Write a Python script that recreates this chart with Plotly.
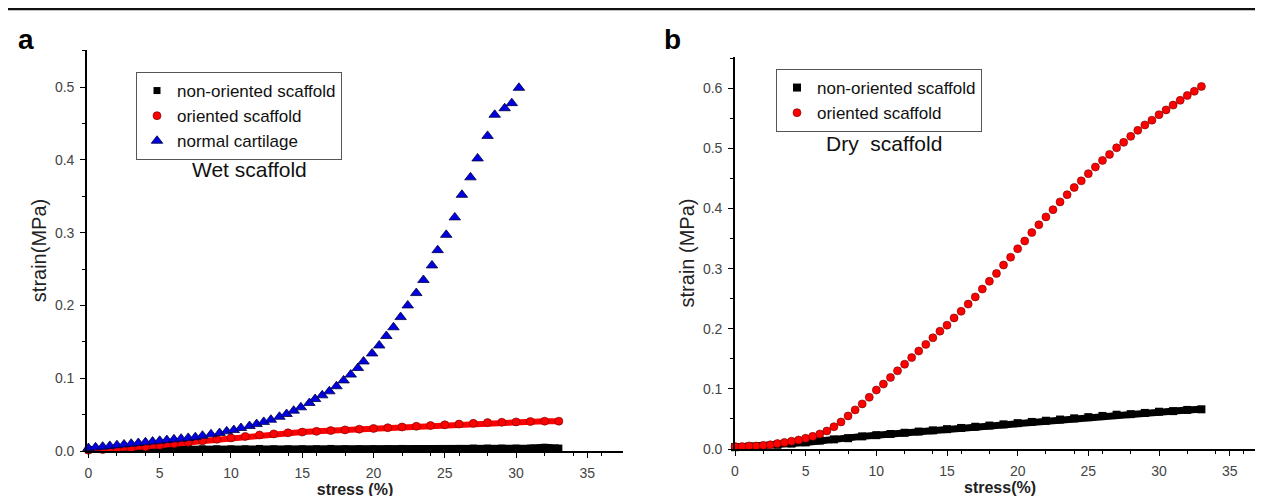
import plotly.graph_objects as go

W, H = 1263, 496

# ---------------- Panel a (Wet scaffold) ----------------
a_blue_x = [0, 0.5, 1, 1.5, 2, 2.5, 3, 3.5, 4, 4.5, 5, 5.5, 6, 6.5, 7, 7.5, 8, 8.6,
            9.2, 9.7, 10.2, 10.7, 11.3, 11.8, 12.3, 12.8, 13.4, 13.9, 14.4, 14.9,
            15.5, 15.9, 16.4, 16.9, 17.4, 17.9, 18.4, 18.9, 19.3, 19.9, 20.4, 20.9,
            21.4, 21.9, 22.4, 23.0, 23.5, 24.1, 24.5, 25.1, 25.7, 26.2, 26.8, 27.3,
            28.0, 28.5, 29.2, 29.7, 30.2]
a_blue_y = [0.004, 0.005, 0.006, 0.007, 0.008, 0.009, 0.010, 0.011, 0.012, 0.013,
            0.014, 0.015, 0.016, 0.017, 0.018, 0.019, 0.021, 0.023,
            0.0247, 0.027, 0.0288, 0.0316, 0.0343, 0.037, 0.040, 0.043, 0.047,
            0.0508, 0.0554, 0.060, 0.066, 0.0714, 0.0765, 0.082, 0.089, 0.097,
            0.105, 0.114, 0.123, 0.134, 0.145, 0.158, 0.170, 0.184, 0.200, 0.217,
            0.235, 0.255, 0.276, 0.297, 0.321, 0.352, 0.376, 0.402, 0.433, 0.462,
            0.471, 0.478, 0.499]

a_x = list(range(0, 34))
a_black_y = [0.002, 0.002, 0.002, 0.0025, 0.003, 0.003, 0.003, 0.0035, 0.003, 0.003,
             0.003, 0.003, 0.0035, 0.003, 0.003, 0.003, 0.003, 0.0035, 0.003, 0.003,
             0.003, 0.003, 0.0035, 0.003, 0.003, 0.003, 0.0035, 0.004, 0.004, 0.004,
             0.004, 0.004, 0.005, 0.004]
a_red_y = [0.001, 0.002, 0.003, 0.004, 0.006, 0.008, 0.010, 0.012, 0.014, 0.016,
           0.018, 0.020, 0.022, 0.0235, 0.025, 0.026, 0.027, 0.028, 0.029, 0.030,
           0.031, 0.032, 0.033, 0.034, 0.035, 0.036, 0.037, 0.038, 0.039, 0.0395,
           0.040, 0.0405, 0.041, 0.041]

# ---------------- Panel b (Dry scaffold) ----------------
b_black_x = list(range(0, 34))
b_black_y = [0.003, 0.004, 0.005, 0.007, 0.009, 0.011, 0.014, 0.016, 0.018, 0.021,
             0.023, 0.025, 0.027, 0.029, 0.031, 0.033, 0.035, 0.037, 0.039, 0.041,
             0.043, 0.045, 0.047, 0.049, 0.051, 0.053, 0.055, 0.057, 0.058, 0.060,
             0.062, 0.063, 0.065, 0.066]

b_red_x = [i * 0.5 for i in range(0, 67)]
b_red_y = [0.004, 0.004, 0.005, 0.005, 0.006, 0.007, 0.009, 0.011, 0.013, 0.015,
           0.018, 0.021, 0.025, 0.030, 0.037, 0.045, 0.055, 0.065, 0.075, 0.086,
           0.098, 0.108, 0.119, 0.130, 0.141, 0.152, 0.163, 0.174, 0.185, 0.196,
           0.206, 0.218, 0.229, 0.241, 0.253, 0.266, 0.279, 0.292, 0.306, 0.319,
           0.333, 0.346, 0.360, 0.373, 0.386, 0.398, 0.411, 0.423, 0.435, 0.446,
           0.458, 0.469, 0.480, 0.490, 0.501, 0.510, 0.520, 0.530, 0.539, 0.547,
           0.556, 0.564, 0.572, 0.580, 0.588, 0.595, 0.603]

x_ticks = [0, 5, 10, 15, 20, 25, 30, 35]
a_y_ticks = [0.0, 0.1, 0.2, 0.3, 0.4, 0.5]
b_y_ticks = [0.0, 0.1, 0.2, 0.3, 0.4, 0.5, 0.6]

FONT = "Liberation Sans, Arial, sans-serif"
BLACK = "#000000"
RED = "#ff0000"
BLUE = "#0000e0"

fig = go.Figure()

# Panel a traces
fig.add_trace(go.Scatter(x=a_x, y=a_black_y, mode="lines", line=dict(color=BLACK, width=7),
                         xaxis="x", yaxis="y", showlegend=False, cliponaxis=False,
                         hoverinfo="skip"))
fig.add_trace(go.Scatter(x=a_x, y=a_black_y, mode="markers", name="non-oriented scaffold",
                         marker=dict(symbol="square", size=7, color=BLACK),
                         xaxis="x", yaxis="y", legend="legend", cliponaxis=False))
fig.add_trace(go.Scatter(x=a_x, y=a_red_y, mode="lines", line=dict(color=RED, width=6),
                         xaxis="x", yaxis="y", showlegend=False, cliponaxis=False,
                         hoverinfo="skip"))
fig.add_trace(go.Scatter(x=a_x, y=a_red_y, mode="markers", name="oriented scaffold",
                         marker=dict(symbol="circle", size=8, color=RED,
                                     line=dict(color="#600000", width=0.6)),
                         xaxis="x", yaxis="y", legend="legend", cliponaxis=False))
fig.add_trace(go.Scatter(x=a_blue_x, y=a_blue_y, mode="markers", name="normal cartilage",
                         marker=dict(symbol="triangle-up", size=10, color=BLUE,
                                     line=dict(color="#000040", width=0.8)),
                         xaxis="x", yaxis="y", legend="legend", cliponaxis=False))

# Panel b traces
fig.add_trace(go.Scatter(x=b_black_x, y=b_black_y, mode="lines", line=dict(color=BLACK, width=7),
                         xaxis="x2", yaxis="y2", showlegend=False, cliponaxis=False,
                         hoverinfo="skip"))
fig.add_trace(go.Scatter(x=b_black_x, y=b_black_y, mode="markers", name="non-oriented scaffold",
                         marker=dict(symbol="square", size=8, color=BLACK),
                         xaxis="x2", yaxis="y2", legend="legend2", cliponaxis=False))
fig.add_trace(go.Scatter(x=b_red_x, y=b_red_y, mode="markers", name="oriented scaffold",
                         marker=dict(symbol="circle", size=8, color=RED,
                                     line=dict(color="#700000", width=0.6)),
                         xaxis="x2", yaxis="y2", legend="legend2", cliponaxis=False))

axis_common = dict(
    showline=True, linecolor=BLACK, linewidth=1.6,
    ticks="outside", ticklen=5, tickwidth=1.4, tickcolor=BLACK,
    showgrid=False, zeroline=False,
    tickfont=dict(family=FONT, size=14, color="#444444"),
    ticklabelstandoff=3,
    minor=dict(ticks="outside", ticklen=3, tickwidth=1.2, tickcolor=BLACK, showgrid=False),
    automargin=False,
)

xtitle_font = dict(family=FONT, size=16, color="#222222", weight="bold")
ytitle_font = dict(family=FONT, size=20, color="#222222")

fig.update_layout(
    width=W, height=H,
    margin=dict(l=0, r=0, t=0, b=0),
    paper_bgcolor="white", plot_bgcolor="white",
    font=dict(family=FONT, color=BLACK),
    xaxis=dict(domain=[79 / W, 615 / W], range=[-0.1, 37.5], anchor="y",
               tickvals=x_ticks, ticktext=[str(v) for v in x_ticks],
               title=dict(text="stress (%)", standoff=2, font=xtitle_font),
               **axis_common),
    yaxis=dict(domain=[1 - 443 / H, 1 - 42 / H], range=[0, 0.551], anchor="x",
               tickvals=a_y_ticks, ticktext=[f"{v:.1f}" for v in a_y_ticks],
               title=dict(text="strain(MPa)", standoff=3, font=ytitle_font),
               **axis_common),
    xaxis2=dict(domain=[727 / W, 1257 / W], range=[0, 37.5], anchor="y2",
                tickvals=x_ticks, ticktext=[str(v) for v in x_ticks],
                title=dict(text="stress(%)", standoff=2, font=xtitle_font),
                **axis_common),
    yaxis2=dict(domain=[1 - 441 / H, 1 - 49 / H], range=[0, 0.652], anchor="x2",
                tickvals=b_y_ticks, ticktext=[f"{v:.1f}" for v in b_y_ticks],
                title=dict(text="strain (MPa)", standoff=3, font=ytitle_font),
                **axis_common),
    legend=dict(x=128 / W, y=1 - 64 / H, xanchor="left", yanchor="top",
                bgcolor="white", bordercolor="#555555", borderwidth=1,
                font=dict(family=FONT, size=17, color="#111111"),
                tracegroupgap=0, itemsizing="trace"),
    legend2=dict(x=768 / W, y=1 - 61 / H, xanchor="left", yanchor="top",
                 bgcolor="white", bordercolor="#555555", borderwidth=1,
                 font=dict(family=FONT, size=17, color="#111111"),
                 tracegroupgap=0, itemsizing="trace"),
    showlegend=True,
)

annotations = [
    dict(text="Wet scaffold", x=182 / W, y=1 - 161 / H, xref="paper", yref="paper",
         xanchor="left", yanchor="middle", showarrow=False,
         font=dict(family=FONT, size=21, color="#111111")),
    dict(text="Dry&nbsp; scaffold", x=816 / W, y=1 - 135 / H, xref="paper", yref="paper",
         xanchor="left", yanchor="middle", showarrow=False,
         font=dict(family=FONT, size=21, color="#111111")),
    dict(text="<b>a</b>", x=8 / W, y=1 - 32 / H, xref="paper", yref="paper",
         xanchor="left", yanchor="middle", showarrow=False,
         font=dict(family=FONT, size=28, color=BLACK)),
    dict(text="<b>b</b>", x=654 / W, y=1 - 32 / H, xref="paper", yref="paper",
         xanchor="left", yanchor="middle", showarrow=False,
         font=dict(family=FONT, size=28, color=BLACK)),
]
fig.update_layout(annotations=annotations)

fig.add_shape(type="line", xref="paper", yref="paper", x0=0, x1=1, y0=1 - 1 / H, y1=1 - 1 / H,
              line=dict(color="#111111", width=2.5))

fig.write_html("out.html")
